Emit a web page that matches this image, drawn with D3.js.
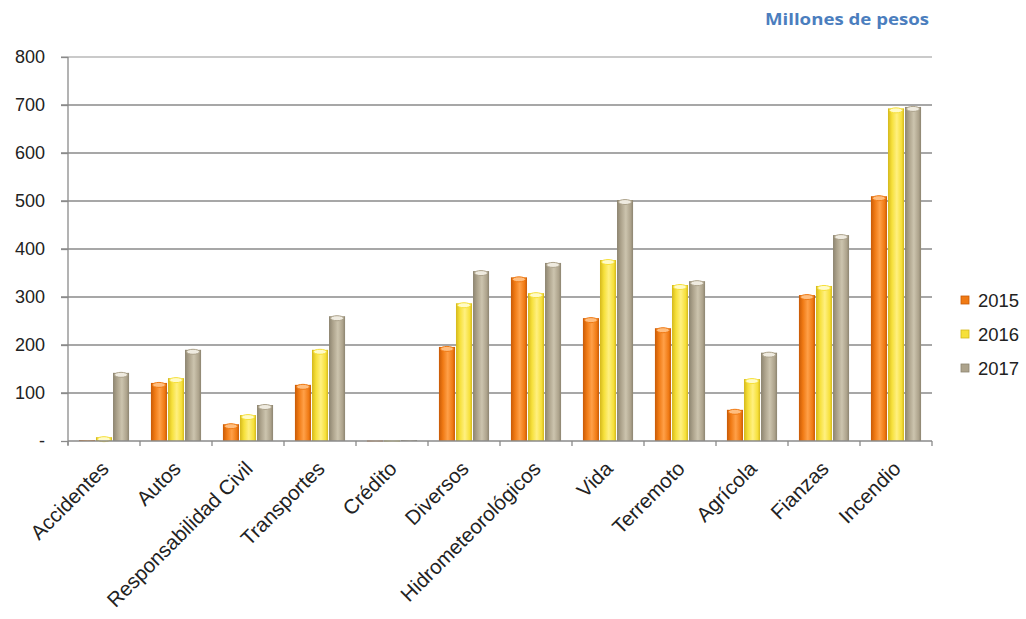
<!DOCTYPE html>
<html>
<head>
<meta charset="utf-8">
<script src="https://cdn.jsdelivr.net/npm/d3@7"></script>
<style>
  html, body { margin: 0; padding: 0; background: #fff; }
  svg { display: block; }
</style>
</head>
<body>
<svg id="chart" width="1026" height="619"></svg>
<script>
// Ramos de seguro y montos por año (millones de pesos)
const categories = ["Accidentes", "Autos", "Responsabilidad Civil", "Transportes", "Crédito",
  "Diversos", "Hidrometeorológicos", "Vida", "Terremoto", "Agrícola", "Fianzas", "Incendio"];
const years = ["2015", "2016", "2017"];
const values2015 = [2, 121, 35, 117, 1, 196, 341, 256, 235, 65, 304, 510];
const values2016 = [8, 131, 54, 190, 1, 287, 308, 377, 325, 129, 323, 693];
const values2017 = [142, 190, 75, 260, 2, 354, 371, 502, 333, 184, 429, 696];
const yTicks = [0, 100, 200, 300, 400, 500, 600, 700, 800];
const unitLabel = "Millones de pesos";

const series = [values2015, values2016, values2017];
const colors = [
  { base: "#F07A14", dark: "#C85A06", light: "#FFA048", cap: "#FFBE80" },
  { base: "#F6E03A", dark: "#D4B81C", light: "#FFF080", cap: "#FFFBC8" },
  { base: "#ADA38C", dark: "#8C8470", light: "#CCC4AE", cap: "#EFEBE0" }
];
const FONT = "'Liberation Sans', Arial, sans-serif";

const svg = d3.select("#chart");
const margin = { left: 68, right: 94, top: 57, bottom: 178 };
const W = 1026, H = 619;

const x0 = d3.scaleBand().domain(categories)
  .range([margin.left, W - margin.right])
  .paddingInner(0.29).paddingOuter(0.145);
const x1 = d3.scaleBand().domain(years).range([0, x0.bandwidth()]).padding(0);
const y = d3.scaleLinear().domain([0, 800]).range([H - margin.bottom, margin.top]);

// Gradients giving the bars a rounded look
const defs = svg.append("defs");
colors.forEach((c, i) => {
  const g = defs.append("linearGradient").attr("id", "grad" + i)
    .attr("x1", "0%").attr("x2", "100%").attr("y1", "0%").attr("y2", "0%");
  g.append("stop").attr("offset", "0%").attr("stop-color", c.dark);
  g.append("stop").attr("offset", "25%").attr("stop-color", c.base);
  g.append("stop").attr("offset", "55%").attr("stop-color", c.light);
  g.append("stop").attr("offset", "85%").attr("stop-color", c.base);
  g.append("stop").attr("offset", "100%").attr("stop-color", c.dark);
});

// Horizontal gridlines
svg.append("g").selectAll("line").data(yTicks.filter(d => d > 0)).join("line")
  .attr("x1", margin.left - 7).attr("x2", W - margin.right)
  .attr("y1", d => y(d)).attr("y2", d => y(d))
  .attr("stroke", d => d === 800 ? "#b8b8b8" : "#8a8a8a")
  .attr("stroke-width", 1.3);

// Y axis
const yAxis = d3.axisLeft(y).tickValues(yTicks)
  .tickFormat(d => d === 0 ? "-" : d).tickSize(7).tickPadding(16);
const gy = svg.append("g").attr("transform", `translate(${margin.left},0)`).call(yAxis);
gy.select(".domain").attr("stroke", "#8a8a8a").attr("stroke-width", 1.3)
  .attr("d", `M0,${y(0) + 4}V${y(800)}`);
gy.selectAll(".tick line").attr("stroke", "#8a8a8a").attr("stroke-width", 1.3);
gy.selectAll(".tick text").attr("fill", "#222")
  .style("font-family", FONT).style("font-size", "18px");

// Bars
const groups = svg.append("g").selectAll("g").data(categories).join("g")
  .attr("transform", d => `translate(${x0(d)},0)`);
groups.each(function (cat, ci) {
  const g = d3.select(this);
  years.forEach((yr, si) => {
    const v = series[si][ci];
    const bx = x1(yr) + 0.5;
    const bw = x1.bandwidth() - 1;
    const top = y(v);
    g.append("rect")
      .attr("x", bx).attr("y", top)
      .attr("width", bw).attr("height", Math.max(y(0) - top, 1))
      .attr("fill", `url(#grad${si})`);
    if (v > 3) {
      g.append("ellipse")
        .attr("cx", bx + bw / 2).attr("cy", top + 2)
        .attr("rx", bw / 2 - 1.5).attr("ry", 2.5)
        .attr("fill", colors[si].cap).attr("stroke", colors[si].base).attr("stroke-width", 1);
    }
  });
});

// X axis
const boundaries = categories.map(c => x0(c) - x0.step() * x0.paddingInner() / 2)
  .concat([W - margin.right]);
const gx = svg.append("g");
gx.append("line").attr("x1", margin.left).attr("x2", W - margin.right)
  .attr("y1", y(0)).attr("y2", y(0)).attr("stroke", "#8a8a8a").attr("stroke-width", 1.5);
gx.selectAll(".tk").data(boundaries).join("line").attr("class", "tk")
  .attr("x1", d => d).attr("x2", d => d)
  .attr("y1", y(0)).attr("y2", y(0) + 5)
  .attr("stroke", "#8a8a8a").attr("stroke-width", 1.3);
gx.selectAll("text").data(categories).join("text")
  .attr("transform", d => `translate(${x0(d) + x0.bandwidth() / 2 + 6},${y(0) + 29}) rotate(-45)`)
  .attr("text-anchor", "end")
  .attr("fill", "#222")
  .style("font-family", FONT).style("font-size", "20.5px")
  .text(d => d);

// Unit label
svg.append("text").attr("x", 929).attr("y", 25).attr("text-anchor", "end")
  .attr("fill", "#4B7EBE").style("font-family", "'Open Sans', 'Noto Sans', sans-serif")
  .style("font-size", "16px").style("font-weight", "bold")
  .attr("textLength", 164).attr("lengthAdjust", "spacingAndGlyphs")
  .text(unitLabel);

// Legend
const legend = svg.append("g").selectAll("g").data(years).join("g")
  .attr("transform", (d, i) => `translate(961,${300 + i * 34})`);
legend.append("rect").attr("x", 0).attr("y", -4).attr("width", 8).attr("height", 8)
  .attr("fill", (d, i) => colors[i].base).attr("stroke", (d, i) => colors[i].dark).attr("stroke-width", 0.8);
legend.append("text").attr("x", 17).attr("y", 6.5).attr("fill", "#222")
  .style("font-family", FONT).style("font-size", "18.5px")
  .text(d => d);
</script>
</body>
</html>
